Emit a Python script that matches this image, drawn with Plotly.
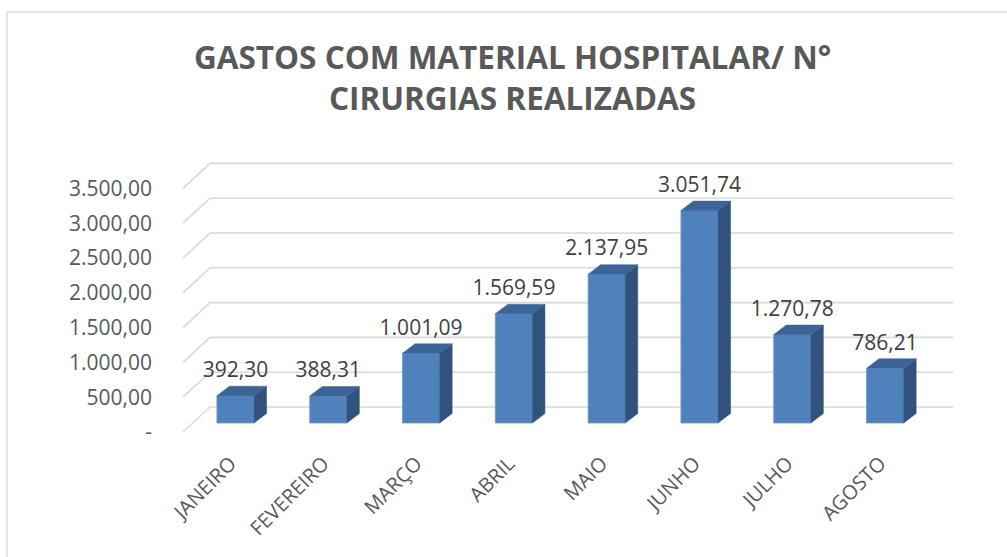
import plotly.graph_objects as go

# ---- data ----
months = ["JANEIRO", "FEVEREIRO", "MARÇO", "ABRIL", "MAIO", "JUNHO", "JULHO", "AGOSTO"]
values = [392.30, 388.31, 1001.09, 1569.59, 2137.95, 3051.74, 1270.78, 786.21]
value_labels = ["392,30", "388,31", "1.001,09", "1.569,59", "2.137,95", "3.051,74", "1.270,78", "786,21"]
tick_vals = [0, 500, 1000, 1500, 2000, 2500, 3000, 3500]
tick_text = ["-", "500,00", "1.000,00", "1.500,00", "2.000,00", "2.500,00", "3.000,00", "3.500,00"]
title_text = "GASTOS COM MATERIAL HOSPITALAR/ N°<br>CIRURGIAS REALIZADAS"

# ---- geometry (pixels) ----
W, H = 1007, 557
L, R, T, B = 156, 985, 140, 447
X0PIX = 235.5          # pixel of first bar centre
PXU = 92.8             # pixels per category
Y0PIX = 423.0          # pixel of value 0 at bar front face
PXV = 34.8 / 500.0     # pixels per value unit

x_range = [(L - X0PIX) / PXU, (R - X0PIX) / PXU]
y_range = [-(B - Y0PIX) / PXV, (Y0PIX - T) / PXV]

def dx(px):
    return px / PXU

def dy(px):
    return px / PXV

bar_w = 0.40
DEPTH_X = dx(12.5)
DEPTH_Y = dy(9.5)

FRONT = "#4F81BD"
TOP = "#3C6496"
SIDE = "#30527D"
GRID = "#D9D9D9"

fig = go.Figure()

# gridlines: back wall + left wall diagonals (drawn below the bars)
back_left = dx(210 - X0PIX)
back_right = dx(953 - X0PIX)
front_left = dx(183 - X0PIX)
back_off = dy(Y0PIX - 407)
front_off = -dy(432 - Y0PIX)
for v in tick_vals:
    fig.add_shape(type="line", xref="x", yref="y", layer="below",
                  x0=front_left, y0=v + front_off, x1=back_left, y1=v + back_off,
                  line=dict(color=GRID, width=1.6))
    fig.add_shape(type="line", xref="x", yref="y", layer="below",
                  x0=back_left, y0=v + back_off, x1=back_right, y1=v + back_off,
                  line=dict(color=GRID, width=1.6))

# front faces
xs = list(range(len(months)))
fig.add_trace(go.Bar(x=xs, y=values, width=bar_w,
                     marker=dict(color=FRONT, line=dict(color="#6B95C8", width=0.8)),
                     showlegend=False, hoverinfo="skip"))

# side and top faces
for i, v in enumerate(values):
    xr = i + bar_w / 2
    xl = i - bar_w / 2
    fig.add_trace(go.Scatter(
        x=[xr, xr + DEPTH_X, xr + DEPTH_X, xr, xr],
        y=[0, DEPTH_Y, v + DEPTH_Y, v, 0],
        fill="toself", fillcolor=SIDE, mode="lines", line=dict(color=SIDE, width=0.5),
        hoverinfo="skip", showlegend=False))
    fig.add_trace(go.Scatter(
        x=[xl, xl + DEPTH_X, xr + DEPTH_X, xr, xl],
        y=[v, v + DEPTH_Y, v + DEPTH_Y, v, v],
        fill="toself", fillcolor=TOP, mode="lines", line=dict(color=TOP, width=0.5),
        hoverinfo="skip", showlegend=False))

# data labels
fig.add_trace(go.Scatter(
    x=xs, y=[v + dy(24) for v in values], mode="text", text=value_labels,
    textposition="middle center",
    textfont=dict(family="Open Sans", size=21, color="#404040"),
    hoverinfo="skip", showlegend=False))

# chart border
def pxp(px):
    return (px - L) / (R - L)

def pyp(py):
    return (B - py) / (B - T)

fig.add_shape(type="rect", xref="paper", yref="paper",
              x0=pxp(7), x1=pxp(1012), y0=pyp(562), y1=pyp(12),
              line=dict(color=GRID, width=1.3), fillcolor="rgba(0,0,0,0)", layer="below")

fig.update_layout(
    width=W, height=H,
    margin=dict(l=L, r=W - R, t=T, b=H - B, autoexpand=False),
    paper_bgcolor="white", plot_bgcolor="white",
    title=dict(text=title_text, x=0.509, xanchor="center", y=1 - 69 / H, yanchor="top",
               font=dict(family="Open Sans", size=31.5, color="#595959", weight="bold")),
    xaxis=dict(range=x_range, tickmode="array", tickvals=xs, ticktext=months,
               tickangle=-45, showgrid=False, zeroline=False, showline=False, ticks="",
               ticklabelshift=-5,
               tickfont=dict(family="Open Sans", size=20, color="#595959"),
               fixedrange=True),
    yaxis=dict(range=y_range, tickmode="array", tickvals=tick_vals, ticktext=tick_text,
               showgrid=False, zeroline=False, showline=False, ticks="",
               ticklabelshift=9, ticklabelstandoff=3,
               tickfont=dict(family="Open Sans", size=21, color="#595959"),
               fixedrange=True),
    bargap=0.6,
)

fig.write_html("out.html", config={"displayModeBar": False},
               post_script="document.body.style.margin='0';")
